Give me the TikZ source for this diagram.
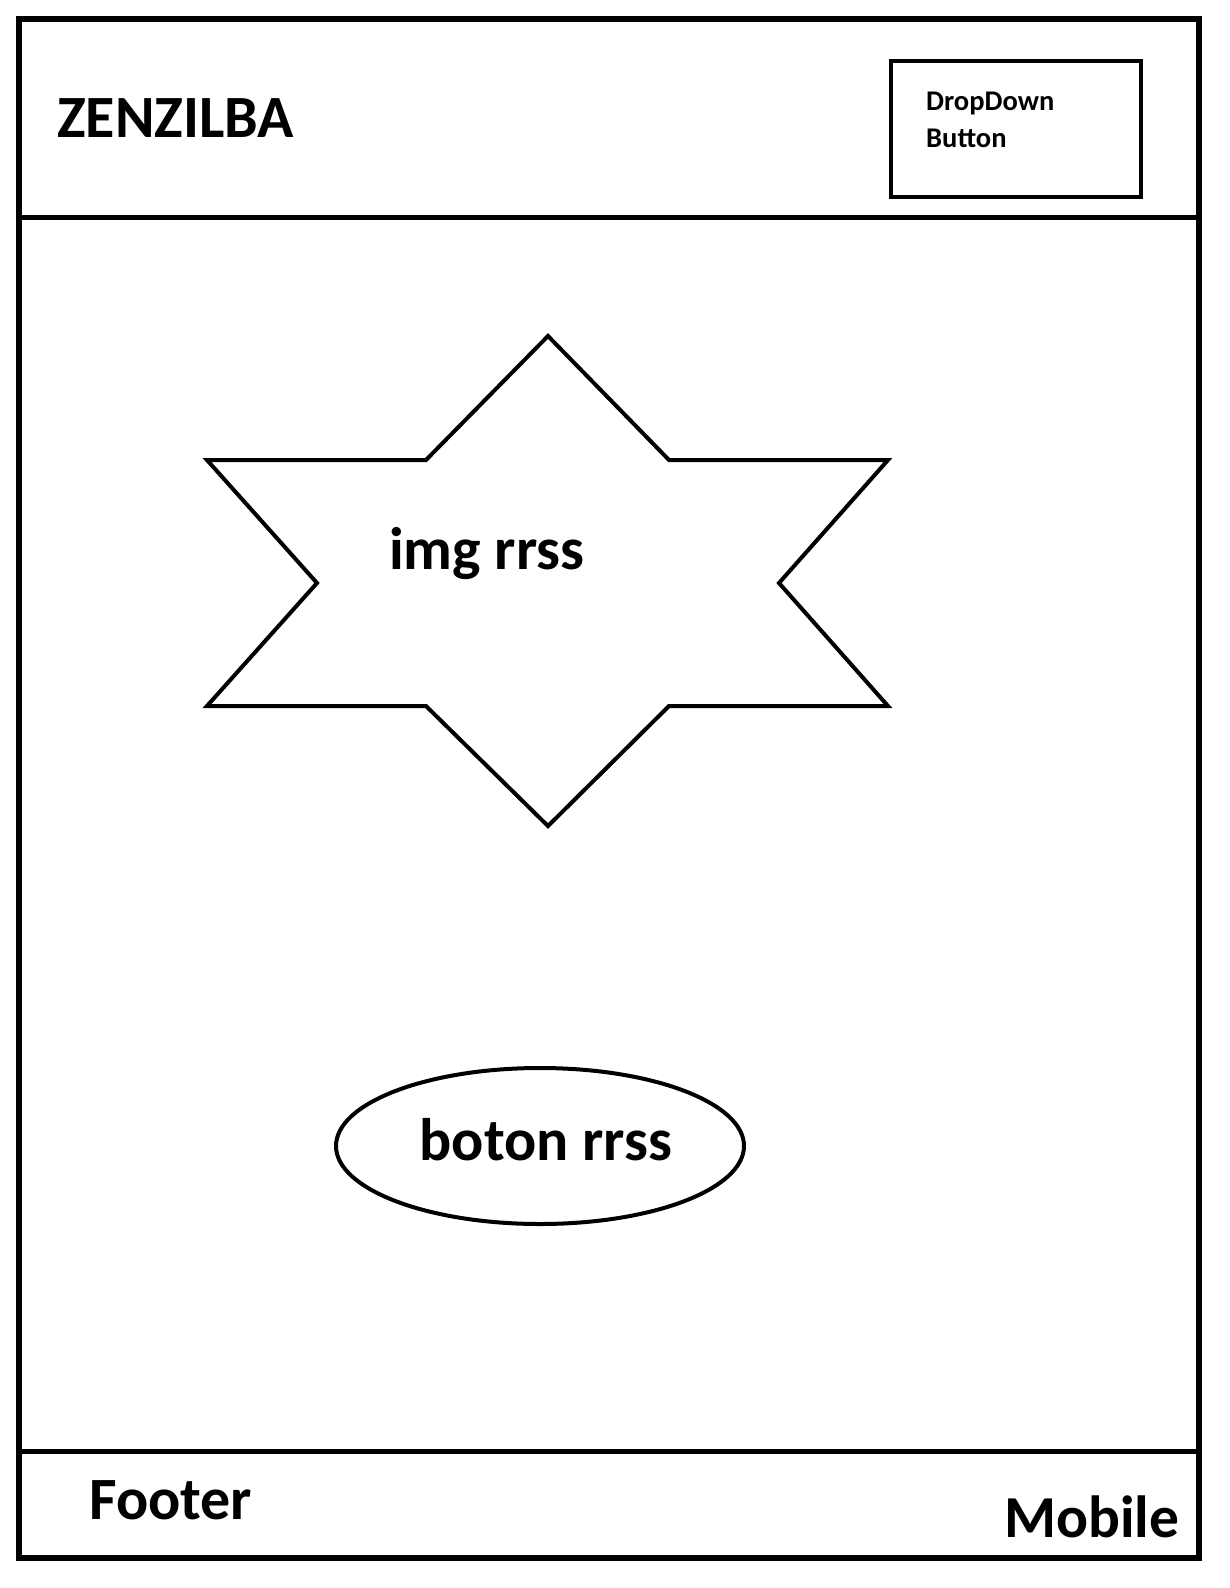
\documentclass[tikz,border=0pt]{standalone}
\usepackage{fontspec}
\setmainfont{Carlito}
\usetikzlibrary{shapes.geometric}
\tikzset{
  label/.style={inner sep=0pt, font=\bfseries\fontsize{#1}{#1}\selectfont},
  label/.default=58
}
\begin{document}
\begin{tikzpicture}[x=1pt, y=-1pt]
            \useasboundingbox (0,0) rectangle (1230,1588);
            \draw[line width=6pt] (18.5,18.5) rectangle (1199,1558);
            \draw[line width=5pt] (18.5,217) -- (1199,217);
            \draw[line width=5pt] (18.5,1451) -- (1199,1451);
            \node[label=60, anchor=base west] (logo) at (57,137) {ZENZILBA};
            \node[draw, line width=4.5pt, minimum width=250pt, minimum height=136pt] (menu) at (1016,129) {};
            \node[label=28.5, anchor=base west] (menutxt1) at (926,110) {DropDown};
            \node[label=28.5, anchor=base west] (menutxt2) at (926,147) {Button};
            \draw[line width=4pt, line join=miter] (548,336) -- (669,460) -- (888,460) -- (779,583) -- (888,706) -- (669,706)
              -- (548,826) -- (426,706) -- (207,706) -- (317,583) -- (207,460) -- (426,460) -- cycle;
            \node[label=60, anchor=base west] (img) at (389,569) {img rrss};
            \node[draw, ellipse, line width=4pt, minimum width=408pt, minimum height=156pt] (boton) at (540,1146) {};
            \node[label=60, anchor=base] (botontxt) at (546,1160) {boton rrss};
            \node[label=60, anchor=base west] (footer) at (89,1519) {Footer};
            \node[label=59.5, anchor=base west] (mobile) at (1004,1537) {Mobile};
\end{tikzpicture}
\end{document}
